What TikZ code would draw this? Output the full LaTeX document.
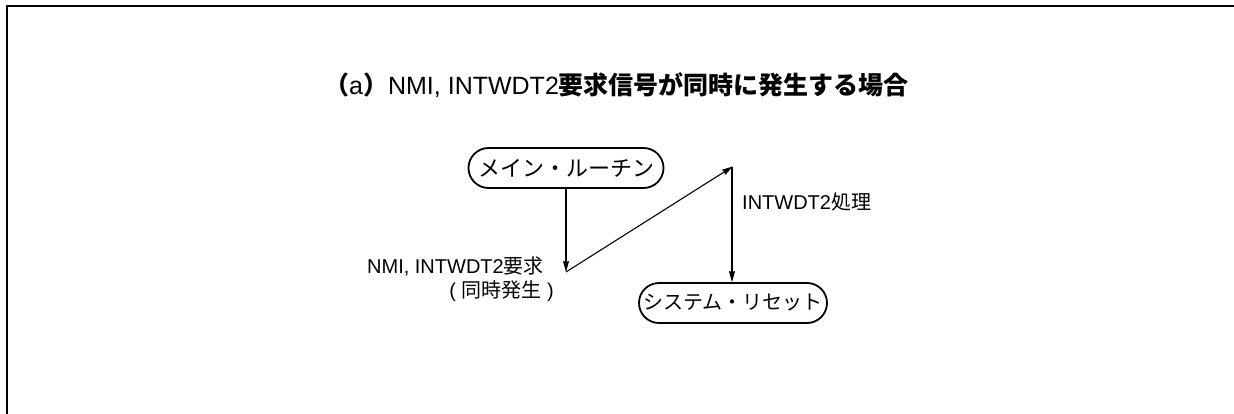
\documentclass[tikz,border=0pt]{standalone}
\usepackage{fontspec}
\setmainfont{Liberation Sans}
\newfontfamily\jp{Noto Sans CJK JP}
\usetikzlibrary{arrows.meta,shapes.misc}
\tikzset{
  term/.style={rounded rectangle, draw, line width=1.8pt, inner sep=0pt, minimum height=40pt},
  arr/.style={line width=1.1pt, -{Stealth[length=11pt,width=6pt,inset=1pt]}},
  lbl/.style={inner sep=0pt, font=\fontsize{20}{24}\selectfont},
  frame/.style={line width=2pt}
}
\begin{document}
\begin{tikzpicture}[x=1pt,y=-1pt]
\useasboundingbox (0,0) rectangle (1234,414);
\coordinate (f0) at (5,6);
\coordinate (f1) at (1234,6);
\coordinate (f2) at (7,414);
\draw[frame] (f1) -- (f0 -| f2) -- (f2);
\node[inner sep=0pt, anchor=base west, font=\fontsize{25}{29}\selectfont] (title) at (324,95)
  {{\jp\bfseries （}a{\jp\bfseries ）}NMI, INTWDT2{\jp\bfseries 要求信号が同時に発生する場合}};
\node[term, minimum width=195pt, font=\jp\fontsize{22}{26}\selectfont] (main) at (566,168) {メイン・ルーチン};
\node[term, minimum width=188pt, font=\jp\fontsize{20}{24}\selectfont] (sys) at (733,303) {システム・リセット};
\coordinate (req) at (566,272);
\coordinate (top) at (732,167);
\draw[arr] (main) -- (req);
\draw[arr, shorten >=-1pt] (req) -- (top);
\draw[arr] (top) -- (top |- sys.north);
\node[lbl, anchor=base east] (l1) at (544,273) {NMI, INTWDT2{\jp 要求}};
\node[lbl, anchor=base east] (l2) at (554,297) {( {\jp 同時発生} )};
\node[lbl, anchor=base west] (l3) at (742,210) {INTWDT2{\jp 処理}};
\end{tikzpicture}
\end{document}
